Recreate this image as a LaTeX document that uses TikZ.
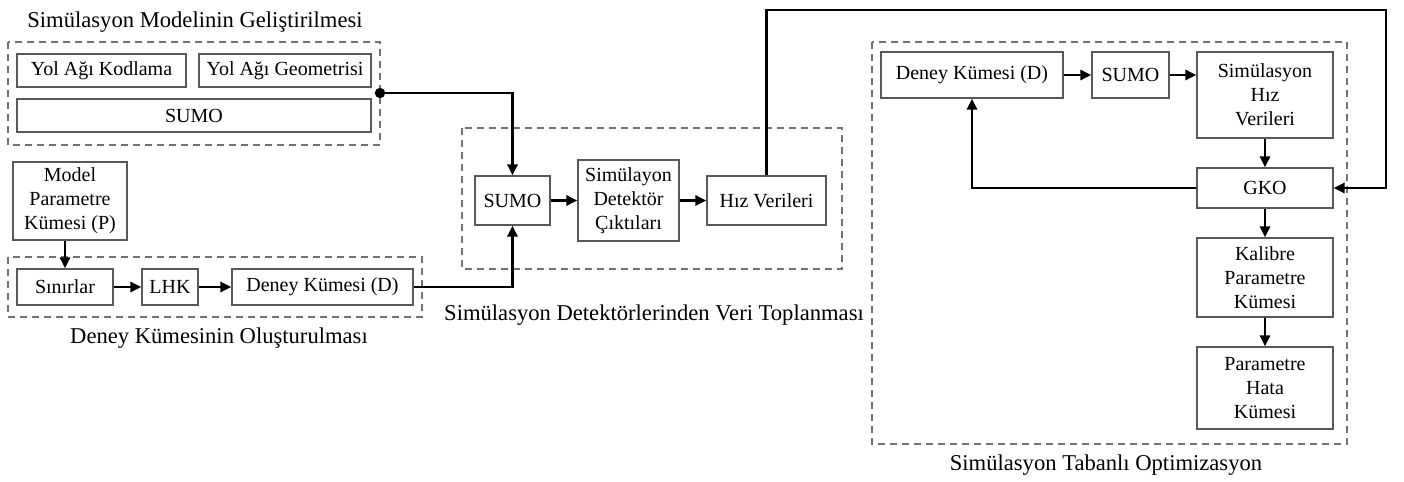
\documentclass[tikz,border=0pt]{standalone}
\usepackage{fontspec}
\setmainfont{Liberation Serif}
\usetikzlibrary{arrows.meta}

\begin{document}
\begin{tikzpicture}[x=0.5pt, y=-0.5pt,
    kutu/.style 2 args={draw=black!65, line width=0.6pt, inner sep=0pt, align=center,
        minimum width=#1*0.5pt, minimum height=#2*0.5pt, font=\fontsize{10}{12}\selectfont},
    grup/.style={draw=black!55, dash pattern=on 3.5pt off 2.5pt, line width=0.6pt},
    baslik/.style={font=\fontsize{11.3}{13}\selectfont},
    ok/.style={-{Triangle[length=5.5pt,width=5pt]}, line width=1.4pt}]
    \useasboundingbox (0,0) rectangle (1404,482);

    %model gelistirme
    \draw[grup] (8,42) rectangle (380,145);
    \node[baslik] (t1) at (195,22) {Simülasyon Modelinin Geliştirilmesi};
    \node[kutu={169}{33}] (kod) at (101.5,70.5) {Yol Ağı Kodlama};
    \node[kutu={172}{33}] (geo) at (285,70.5) {Yol Ağı Geometrisi};
    \node[kutu={354}{33}] (sumoA) at (194,115.5) {SUMO};
    \coordinate (nokta) at (380,93);

    %deney kumesi
    \node[kutu={114}{78}] (param) at (70,201) {Model\\Parametre\\Kümesi (P)};
    \draw[grup] (8,257) rectangle (422,317);
    \node[baslik] (t2) at (219,338) {Deney Kümesinin Oluşturulması};
    \node[kutu={96}{36}] (sinir) at (65,287) {Sınırlar};
    \node[kutu={56}{36}] (lhk) at (170,287) {LHK};
    \node[kutu={181}{36}] (deneyA) at (322.5,287) {Deney Kümesi (D)};

    %veri toplama
    \draw[grup] (462,128) rectangle (842,269);
    \node[baslik] (t3) at (654,315) {Simülasyon Detektörlerinden Veri Toplanması};
    \node[kutu={75}{49}] (sumoB) at (512.5,200.5) {SUMO};
    \node[kutu={101}{81}] (detek) at (628.5,200.5) {Simülayon\\Detektör\\Çıktıları};
    \node[kutu={119}{49}] (hiz) at (766.5,200.5) {Hız Verileri};

    %optimizasyon
    \draw[grup] (872,42) rectangle (1347,444);
    \node[baslik] (t4) at (1106,465) {Simülasyon Tabanlı Optimizasyon};
    \node[kutu={182}{46}] (deneyB) at (972,75) {Deney Kümesi (D)};
    \node[kutu={77}{46}] (sumoC) at (1130.5,75) {SUMO};
    \node[kutu={136}{86}] (simhiz) at (1265,95) {Simülasyon\\Hız\\Verileri};
    \node[kutu={136}{40}] (gko) at (1265,188) {GKO};
    \node[kutu={136}{79}] (kalibre) at (1265,277.5) {Kalibre\\Parametre\\Kümesi};
    \node[kutu={136}{82}] (hata) at (1265,388) {Parametre\\Hata\\Kümesi};
    \coordinate (ust) at (1386,10);

    %oklar
    \fill (nokta) circle (2.6pt);
    \draw[ok] (nokta) -| (sumoB.north);
    \draw[ok] (sinir.north |- param.south) -- (sinir.north);
    \draw[ok] (sinir) -- (lhk);
    \draw[ok] (lhk) -- (deneyA);
    \draw[ok] (deneyA.east) -| (sumoB.south);
    \draw[ok] (sumoB) -- (detek);
    \draw[ok] (detek) -- (hiz);
    \draw[ok] (hiz.north) |- (ust) |- (gko.east);
    \draw[ok] (deneyB) -- (sumoC);
    \draw[ok] (sumoC.east) -- (sumoC.east -| simhiz.west);
    \draw[ok] (simhiz) -- (gko);
    \draw[ok] (gko) -- (kalibre);
    \draw[ok] (kalibre) -- (hata);
    \draw[ok] (gko.west) -| (deneyB.south);
\end{tikzpicture}
\end{document}
